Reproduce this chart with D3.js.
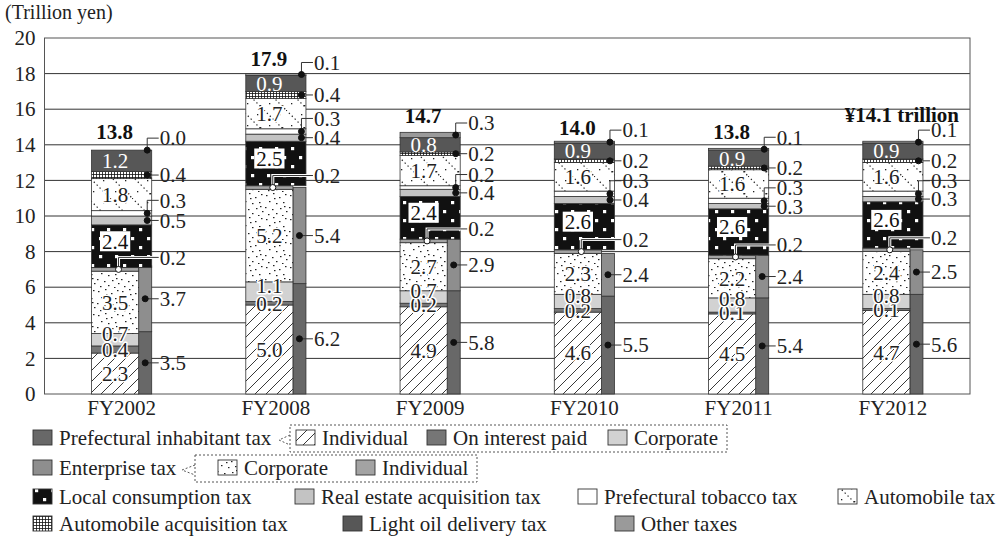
<!DOCTYPE html>
<html><head><meta charset="utf-8">
<script src="https://cdn.jsdelivr.net/npm/d3@7/dist/d3.min.js"></script>
<style>
body{margin:0;background:#fff;}
text{font-family:"Liberation Serif","Times New Roman",serif;}
</style></head><body>
<svg id="chart" width="1007" height="544"></svg>
<script>
// ---------------- DATA (trillion yen) ----------------
const categories = ["FY2002","FY2008","FY2009","FY2010","FY2011","FY2012"];
// Prefectural inhabitant tax components
const inhIndividual = [2.3, 5.0, 4.9, 4.6, 4.5, 4.7];
const inhInterest   = [0.4, 0.2, 0.2, 0.2, 0.1, 0.1];
const inhCorporate  = [0.7, 1.1, 0.7, 0.8, 0.8, 0.8];
// Enterprise tax components
const entCorporate  = [3.5, 5.2, 2.7, 2.3, 2.2, 2.4];
const entIndividual = [0.2, 0.2, 0.2, 0.2, 0.2, 0.2];
// Other taxes
const localConsumption = [2.4, 2.5, 2.4, 2.6, 2.6, 2.6];
const realEstate       = [0.5, 0.4, 0.4, 0.4, 0.3, 0.3];
const tobacco          = [0.3, 0.3, 0.2, 0.3, 0.3, 0.3];
const automobile       = [1.8, 1.7, 1.7, 1.6, 1.6, 1.6];
const autoAcquisition  = [0.4, 0.4, 0.2, 0.2, 0.2, 0.2];
const lightOil         = [1.2, 0.9, 0.8, 0.9, 0.9, 0.9];
const otherTaxes       = [0.0, 0.1, 0.3, 0.1, 0.1, 0.1];
// Totals
const inhabitantTotal = [3.5, 6.2, 5.8, 5.5, 5.4, 5.6];
const enterpriseTotal = [3.7, 5.4, 2.9, 2.4, 2.4, 2.5];
const totals      = [13.8, 17.9, 14.7, 14.0, 13.8, 14.1];
const totalLabels = ["13.8", "17.9", "14.7", "14.0", "13.8", "¥14.1 trillion"];
const yTicks = [0, 2, 4, 6, 8, 10, 12, 14, 16, 18, 20];
const unitLabel = "(Trillion yen)";

// ---------------- SETUP ----------------
const svg = d3.select("#chart");
const FONT = 21;
const plot = {left: 44.5, right: 970, top: 38, bottom: 394};
const x = d3.scaleBand().domain(categories).range([plot.left, plot.right])
  .paddingInner(0.61).paddingOuter(0.305);
const y = d3.scaleLinear().domain([0, 20]).range([plot.bottom, plot.top]);
const fmt = d3.format(".1f");

// ---------------- PATTERNS ----------------
const defs = svg.append("defs");
function pattern(id, w, h, bg) {
  const p = defs.append("pattern").attr("id", id).attr("patternUnits", "userSpaceOnUse")
    .attr("width", w).attr("height", h);
  p.append("rect").attr("width", w).attr("height", h).attr("fill", bg);
  return p;
}
let p = pattern("hatch", 11, 11, "#fff");
p.append("path").attr("d", "M0,11L11,0M-3,3L3,-3M8,14L14,8").attr("stroke", "#222").attr("stroke-width", 0.9);

p = pattern("stipple", 24, 24, "#fff");
[[2,3],[9,1],[15,5],[21,2],[5,9],[12,11],[19,10],[1,15],[8,17],[16,16],[22,19],[4,22],[12,21],[18,23],[10,6],[20,14]]
  .forEach(d => p.append("rect").attr("x", d[0]).attr("y", d[1]).attr("width", 1.5).attr("height", 1.2).attr("fill", "#222"));

p = pattern("dots", 16, 18, "#111");
p.append("rect").attr("x", 3).attr("y", 3).attr("width", 3.2).attr("height", 3.2).attr("fill", "#fff");
p.append("rect").attr("x", 11).attr("y", 12).attr("width", 3.2).attr("height", 3.2).attr("fill", "#fff");

p = pattern("auto", 22, 22, "#fff");
p.append("path").attr("d", "M0,0L22,22").attr("stroke", "#222").attr("stroke-width", 1.2).attr("stroke-dasharray", "1.3,2.8");
[[15,4],[5,15],[18,17]].forEach(d => p.append("rect").attr("x", d[0]).attr("y", d[1]).attr("width", 1.3).attr("height", 1.3).attr("fill", "#222"));

p = pattern("grid", 3, 3, "#fff");
p.append("path").attr("d", "M0,0.5H3M0.5,0V3").attr("stroke", "#111").attr("stroke-width", 0.8);

// ---------------- SERIES CONFIG ----------------
const mainSeries = [
  {key: "inhIndividual", values: inhIndividual, fill: "url(#hatch)", label: "in"},
  {key: "inhInterest", values: inhInterest, fill: "#767676", label: "in"},
  {key: "inhCorporate", values: inhCorporate, fill: "#d2d2d2", label: "inUp"},
  {key: "entCorporate", values: entCorporate, fill: "url(#stipple)", label: "in"},
  {key: "entIndividual", values: entIndividual, fill: "#a3a3a3", label: "hollow"}
];
const fullSeries = [
  {key: "localConsumption", values: localConsumption, fill: "url(#dots)", label: "box"},
  {key: "realEstate", values: realEstate, fill: "#c3c3c3", label: "right"},
  {key: "tobacco", values: tobacco, fill: "#fff", label: "elbow", off: 13},
  {key: "automobile", values: automobile, fill: "url(#auto)", label: "in"},
  {key: "autoAcquisition", values: autoAcquisition, fill: "url(#grid)", label: "right"},
  {key: "lightOil", values: lightOil, fill: "#575757", label: "inWhite"},
  {key: "otherTaxes", values: otherTaxes, fill: "#9a9a9a", label: "elbow", off: 12}
];
const sideSeries = [
  {key: "inhabitantTotal", values: inhabitantTotal, fill: "#686868", label: "right"},
  {key: "enterpriseTotal", values: enterpriseTotal, fill: "#8e8e8e", label: "right"}
];

const segs = [];
categories.forEach((cat, i) => {
  let acc = 0;
  mainSeries.forEach(s => { const v0 = acc; acc += s.values[i]; segs.push({cat, i, s, v: s.values[i], v0, v1: acc, col: "main"}); });
  fullSeries.forEach(s => { const v0 = acc; acc += s.values[i]; segs.push({cat, i, s, v: s.values[i], v0, v1: acc, col: "full"}); });
  let sacc = 0;
  sideSeries.forEach(s => { const v0 = sacc; sacc += s.values[i]; segs.push({cat, i, s, v: s.values[i], v0, v1: sacc, col: "side"}); });
});
const colOrder = {side: 0, main: 1, full: 2};
segs.sort((a, b) => colOrder[a.col] - colOrder[b.col]);

const bw = x.bandwidth();
const mainW = bw * 47 / 60, sideW = bw - mainW;
function segX(d) { return d.col === "side" ? x(d.cat) + mainW : x(d.cat); }
function segW(d) { return d.col === "full" ? bw : (d.col === "main" ? mainW : sideW); }

// ---------------- AXES / GRID ----------------
svg.append("text").attr("x", 5).attr("y", 18.5).attr("font-size", 20).attr("fill", "#222").text(unitLabel);

svg.append("g").selectAll("line").data(yTicks.filter(t => t > 0 && t < 20)).join("line")
  .attr("x1", plot.left).attr("x2", plot.right).attr("y1", d => y(d)).attr("y2", d => y(d))
  .attr("stroke", "#333").attr("stroke-width", 1);
svg.append("rect").attr("x", plot.left).attr("y", plot.top).attr("width", plot.right - plot.left)
  .attr("height", plot.bottom - plot.top).attr("fill", "none").attr("stroke", "#555").attr("stroke-width", 1);

const yAxis = d3.axisLeft(y).tickValues(yTicks).tickSize(0).tickPadding(9).tickFormat(d3.format("d"));
const ya = svg.append("g").attr("transform", `translate(${plot.left},0)`).call(yAxis);
ya.select(".domain").remove();
ya.selectAll("text").attr("font-size", FONT).attr("fill", "#222").attr("font-family", "Liberation Serif");

const xAxis = d3.axisBottom(x).tickSize(0).tickPadding(6);
const xa = svg.append("g").attr("transform", `translate(0,${plot.bottom})`).call(xAxis);
xa.select(".domain").remove();
xa.selectAll("text").attr("font-size", FONT).attr("fill", "#222").attr("font-family", "Liberation Serif");

// ---------------- BARS ----------------
svg.append("g").selectAll("rect").data(segs).join("rect")
  .attr("x", segX).attr("width", segW)
  .attr("y", d => y(d.v1)).attr("height", d => Math.max(0, y(d.v0) - y(d.v1)))
  .attr("fill", d => d.s.fill).attr("stroke", "#333").attr("stroke-width", 0.8);

// ---------------- LABELS ----------------
const lab = svg.append("g");
const leaders = lab.append("g");
const texts = lab.append("g");
segs.forEach(d => {
  const x0 = x(d.cat), xR = x0 + bw, xC = x0 + mainW / 2;
  const yc = (y(d.v0) + y(d.v1)) / 2;
  const t = fmt(d.v);
  const type = d.s.label;
  if (type === "in" || type === "inUp" || type === "inWhite") {
    const ly = type === "inUp" ? Math.max(y(d.v1), yc - 6) : yc;
    const tx = texts.append("text").attr("x", xC).attr("y", ly).attr("dy", "0.35em")
      .attr("text-anchor", "middle").attr("font-size", FONT).text(t);
    if (type === "inWhite") tx.attr("fill", "#fff");
    else tx.attr("fill", "#222").attr("stroke", "#fff").attr("stroke-width", 3).attr("paint-order", "stroke").attr("stroke-linejoin", "round");
  } else if (type === "box") {
    const ly = yc - 5;
    const g = texts.append("g");
    const tx = g.append("text").attr("x", xC).attr("y", ly).attr("dy", "0.35em")
      .attr("text-anchor", "middle").attr("font-size", FONT).attr("fill", "#111").text(t);
    const w = tx.node().getComputedTextLength() + 4;
    g.insert("rect", "text").attr("x", xC - w / 2).attr("y", ly - 10).attr("width", w).attr("height", 20).attr("fill", "#fff");
  } else {
    let dotX, ly = yc, elbow = false;
    if (type === "hollow") { dotX = x0 + 27; ly = yc - 12; elbow = true; }
    else if (type === "elbow") { dotX = xR - 4.5; ly = yc - d.s.off; elbow = true; }
    else { dotX = d.col === "side" ? x0 + mainW + sideW / 2 : xR - 4.5; }
    const path = elbow ? `M${dotX},${yc}V${ly}H${xR + 7}` : `M${dotX},${yc}H${xR + 7}`;
    if (type === "hollow") {
      leaders.append("path").attr("d", path).attr("fill", "none").attr("stroke", "#fff").attr("stroke-width", 3);
    }
    leaders.append("path").attr("d", path).attr("fill", "none").attr("stroke", "#333").attr("stroke-width", 1);
    leaders.append("circle").attr("cx", dotX).attr("cy", yc).attr("r", 3)
      .attr("fill", type === "hollow" ? "#fff" : "#111").attr("stroke", "#111").attr("stroke-width", 1);
    texts.append("text").attr("x", xR + 8).attr("y", ly).attr("dy", "0.35em")
      .attr("font-size", FONT).attr("fill", "#222").text(t);
  }
});

// totals
svg.append("g").selectAll("text").data(categories).join("text")
  .attr("x", (c, i) => x(c) + bw / 2 + (i === categories.length - 1 ? 9 : -7))
  .attr("y", (c, i) => y(totals[i]) - (i === categories.length - 1 ? 28 : 17))
  .attr("dy", "0.35em").attr("text-anchor", "middle")
  .attr("font-size", FONT).attr("font-weight", "bold").attr("fill", "#111")
  .text((c, i) => totalLabels[i]);

// ---------------- LEGEND ----------------
const legendRows = [
  {y: 438, box: [290, 727], chevron: 279, items: [
    {x: 33, fill: "#686868", text: "Prefectural inhabitant tax"},
    {x: 296, fill: "url(#hatch)", text: "Individual"},
    {x: 427, fill: "#767676", text: "On interest paid"},
    {x: 608, fill: "#d2d2d2", text: "Corporate"}]},
  {y: 468, box: [195, 477], chevron: 182, items: [
    {x: 33, fill: "#8e8e8e", text: "Enterprise tax"},
    {x: 218, fill: "url(#stipple)", text: "Corporate"},
    {x: 356, fill: "#a3a3a3", text: "Individual"}]},
  {y: 497, items: [
    {x: 33, fill: "url(#dots)", text: "Local consumption tax"},
    {x: 295, fill: "#c3c3c3", text: "Real estate acquisition tax"},
    {x: 578, fill: "#fff", text: "Prefectural tobacco tax"},
    {x: 838, fill: "url(#auto)", text: "Automobile tax"}]},
  {y: 524, items: [
    {x: 33, fill: "url(#grid)", text: "Automobile acquisition tax"},
    {x: 343, fill: "#575757", text: "Light oil delivery tax"},
    {x: 615, fill: "#9a9a9a", text: "Other taxes"}]}
];
const leg = svg.append("g");
legendRows.forEach(r => {
  if (r.box) {
    leg.append("rect").attr("x", r.box[0]).attr("y", r.y - 13).attr("width", r.box[1] - r.box[0]).attr("height", 27)
      .attr("fill", "none").attr("stroke", "#555").attr("stroke-width", 1).attr("stroke-dasharray", "2,2");
    leg.append("path").attr("d", `M${r.box[0]},${r.y - 3}L${r.chevron},${r.y + 2}L${r.box[0]},${r.y + 7}`)
      .attr("fill", "none").attr("stroke", "#555").attr("stroke-width", 1).attr("stroke-dasharray", "2,2");
  }
  r.items.forEach(it => {
    leg.append("rect").attr("x", it.x).attr("y", r.y - 8).attr("width", 19).attr("height", 15)
      .attr("fill", it.fill).attr("stroke", "#333").attr("stroke-width", 0.9);
    leg.append("text").attr("x", it.x + 26).attr("y", r.y).attr("dy", "0.35em")
      .attr("font-size", FONT).attr("fill", "#222").text(it.text);
  });
});
</script>
</body></html>
